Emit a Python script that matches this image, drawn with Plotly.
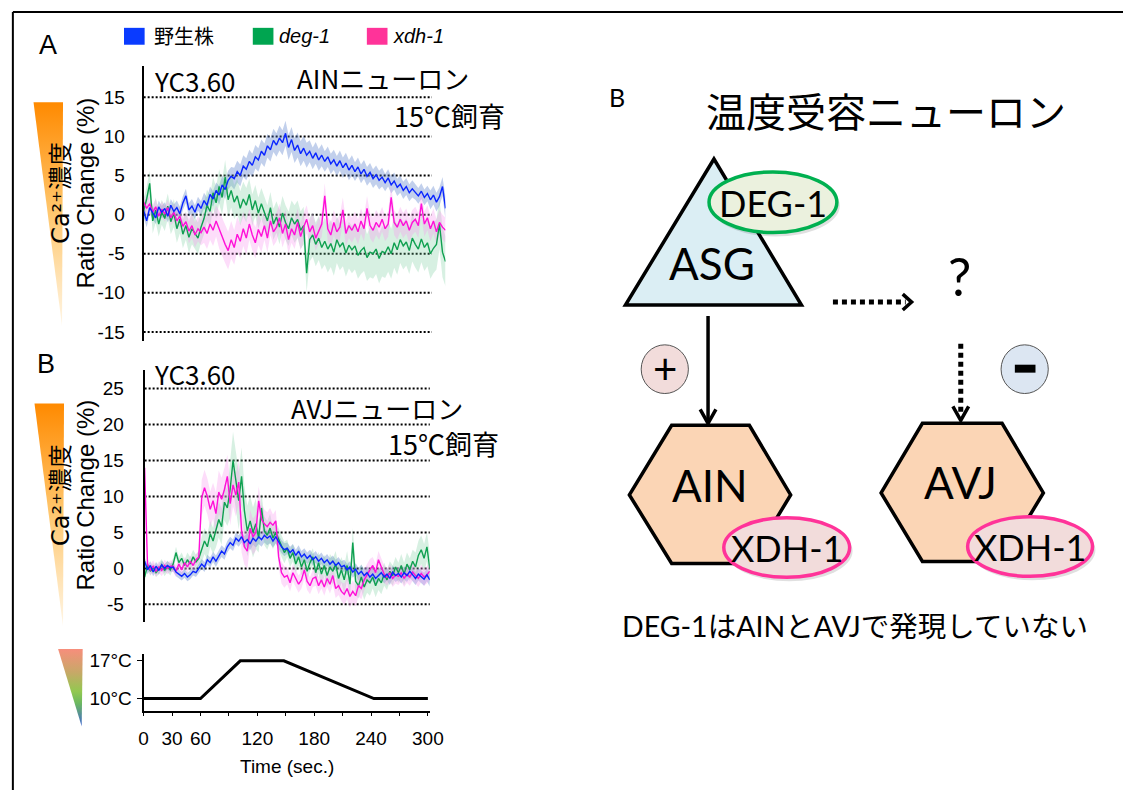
import plotly.graph_objects as go

W, H = 1137, 792

# ---------------- data ----------------
TIME = list(range(0, 301, 3))          # seconds, 3-s sampling
SEM_BLOCK = 5                           # SEM given per block of 5 samples (15 s)

# Panel A : AIN neuron
WT_A = [0.5, -0.8, 0.9, 0.2, -0.4, 1.0, 0.3, 0.8, -0.2, 1.2, 0.4, 0.9, 0.1, 1.5, 2.4, 0.6, 1.1, 0.3, 1.4, 0.8,
        1.8, 1.2, 2.6, 2.0, 3.1, 2.5, 3.8, 3.2, 4.4, 4.9,
        4.6, 5.5, 5.0, 6.2, 5.8, 6.8, 6.3, 7.4, 7.0, 8.1,
        7.6, 8.8, 8.3, 9.5, 8.9, 9.8, 9.2, 10.4, 8.6, 9.6,
        8.2, 8.9, 7.8, 8.5, 7.6, 8.1, 7.2, 7.9, 7.0, 7.6,
        6.8, 7.4, 6.5, 7.0, 6.2, 6.9, 6.0, 6.6, 5.7, 6.3,
        5.5, 6.1, 5.2, 5.8, 4.9, 5.4, 4.6, 5.1, 4.4, 4.8,
        4.1, 4.7, 3.8, 4.3, 3.5, 3.9, 3.1, 3.6, 2.8, 3.3,
        2.9, 2.4, 3.0, 2.2, 2.7, 1.9, 2.5, 1.6, 2.3, 3.6, 0.8]
DEG_A = [0.5, 2.0, 4.0, -0.8, 0.6, -1.2, 0.3, -0.5, 1.1, -0.9, 0.2, -1.8, -0.6, -2.5, -1.4, -2.9, -1.8, -2.4, -3.0, -1.6,
         -0.5, 1.2, 0.4, 2.8, 1.5, 3.6, 2.2, 4.8, 1.9, 3.1,
         1.6, 2.4, 0.8, 2.0, 1.2, 2.6, 0.6, 1.8, 0.2, 1.4,
         0.4, -0.8, 0.9, -1.2, -0.3, -1.6, 0.2, -1.0, -1.8, -0.4,
         -1.2, -0.6, -2.0, -1.4, -7.5, -3.2, -2.6, -3.8, -3.0, -4.2,
         -3.4, -4.4, -3.7, -4.8, -3.2, -4.1, -3.6, -4.9, -3.9, -4.5,
         -4.0, -5.2, -4.6, -4.2, -5.5, -4.8, -5.0, -4.4, -5.6, -4.7,
         -4.9, -4.1, -5.0, -3.6, -4.5, -3.2, -4.0, -3.5, -4.6, -3.0,
         -3.8, -4.4, -3.1, -4.2, -3.6, -5.0, -4.3, -3.8, -1.2, -4.8, -6.0]
XDH_A = [1.6, 0.8, 1.4, 0.3, 1.0, -0.2, 0.7, 0.1, 0.9, -0.4, 0.3, -0.8, -0.2, -1.5, -0.9, -2.1, -1.4, -2.6, -1.8, -2.3,
         -1.6, -2.4, -1.2, -2.0, -0.8, -1.9, -2.8, -3.8, -4.6, -3.2,
         -4.2, -2.5, -3.4, -1.8, -3.0, -1.2, -2.6, -3.6, -1.9, -2.8,
         -1.4, -3.0, -0.8, -2.2, -1.6, -0.4, -2.4, -1.2, -3.2, -1.8,
         -2.6, -1.0, -2.8, -1.6, -0.6, -2.2, -1.4, -3.0, -2.0, -1.2,
         2.4, -1.8, -2.6, -1.0, -2.2, -1.6, 0.6, -2.4, -1.4, -2.0,
         -1.2, -2.2, -0.8, -1.8, 0.8, -1.4, -2.0, -1.0, -1.6, -0.6,
         -1.8, -1.2, 2.2, -1.0, -1.6, -0.6, -1.4, -0.8, -2.0, -1.0,
         -0.6, -1.4, 1.4, -1.2, -0.4, -1.8, -0.8, -2.2, -1.0, -1.6, -2.0]
WT_A_SEM = [0.8, 0.8, 0.9, 0.9, 1.0, 1.2, 1.4, 1.5, 1.5, 1.6, 1.6, 1.4, 1.3, 1.3, 1.2, 1.2, 1.1, 1.1, 1.0, 1.2, 1.5]
DEG_A_SEM = [1.6, 1.6, 1.8, 2.0, 2.0, 2.2, 2.2, 2.0, 2.0, 2.2, 2.4, 2.8, 3.0, 3.0, 3.0, 3.2, 3.2, 3.0, 3.0, 3.2, 3.2]
XDH_A_SEM = [1.0, 1.0, 1.2, 1.6, 2.0, 2.4, 2.2, 2.0, 1.8, 1.8, 1.8, 1.6, 1.6, 1.6, 1.6, 1.6, 1.6, 1.6, 1.6, 1.6, 1.6]

# Panel B : AVJ neuron
WT_B = [1.0, -0.2, 0.4, -0.5, 0.3, -0.3, 0.5, 0.0, 0.4, 0.1,
        0.2, -0.5, -0.8, -1.1, -0.7, -1.2, -0.9, -0.4, -0.6, 0.0,
        0.6, 0.2, 1.2, 0.8, 1.6, 1.0, 1.8, 2.4, 2.0, 3.0,
        3.6, 3.2, 4.2, 3.8, 4.4, 3.6, 4.0, 3.4, 4.2, 3.8,
        4.4, 4.0, 4.6, 4.2, 4.5, 3.8, 4.4, 3.6, 3.0, 2.6,
        2.8, 2.2, 2.6, 1.8, 2.4, 1.6, 2.0, 1.4, 1.8, 1.2,
        1.6, 1.0, 1.4, 0.8, 1.2, 0.6, 1.0, 0.4, 0.8, 0.2,
        0.4, -0.2, 0.2, -0.5, -0.1, -0.8, -0.4, -1.0, -0.6, -1.2,
        -0.8, -1.4, -1.0, -0.6, -1.2, -0.8, -1.4, -0.5, -1.0, -0.7,
        -1.2, -0.6, -1.0, -0.4, -0.9, -1.4, -0.8, -1.2, -1.5, -0.9, -1.6]
DEG_B = [-1.2, 0.4, -0.4, 0.2, -0.6, 0.0, 0.5, -0.3, 0.3, -0.2,
         0.6, 2.2, 0.8, 1.4, 0.4, 1.2, 0.6, 1.6, 0.9, 1.4,
         2.6, 3.8, 3.0, 4.8, 3.8, 5.4, 6.8, 5.8, 9.2, 8.4,
         11.0, 15.0, 12.2, 9.4, 12.8, 8.0, 5.2, 6.6, 5.0, 6.2,
         4.2, 8.4, 5.2, 4.6, 5.6, 4.2, 5.0, 4.0, 3.0, 2.2,
         2.8, 1.4, 2.2, 0.6, 1.6, 0.2, 1.2, -0.4, 0.8, 1.6,
         -0.6, 0.8, -0.8, 0.4, -1.0, 0.2, -0.4, 0.6, -1.4, -0.2,
         -1.6, 0.4, -2.2, 3.6, -1.8, -2.4, -1.2, -2.6, -1.6, -2.0,
         -1.2, -2.4, -1.4, -2.0, -0.8, -1.6, -0.4, -1.0, 0.2, -0.6,
         0.4, -0.8, 0.6, -0.2, 1.0, 0.2, 1.8, 2.6, 1.4, 3.0, 0.0]
XDH_B = [14.0, 0.6, -0.2, 0.3, -0.4, 0.2, -0.3, 0.4, 0.0, 0.3,
         0.3, -0.4, 0.6, -0.2, 0.8, 0.2, 1.0, 0.4, 1.2, 1.6,
         9.8, 11.2, 10.0, 8.2, 9.4, 7.6, 10.6, 9.6, 11.0, 12.8,
         9.0, 11.6, 10.2, 12.0, 5.2, 3.0, 2.4, 5.6, 4.4, 5.0,
         9.4, 6.8, 6.2, 5.8, 6.4, 6.0, 6.6, 1.6, -0.6, -1.2,
         -1.0, -2.0, -0.6, -1.4, -2.2, -1.6, -0.2, -1.8, -2.4, -1.4,
         -1.2, -2.4, -1.6, -2.6, -1.4, -2.2, -1.0, -2.8, -2.4, -3.2,
         -3.6, -2.8, -3.9, -3.2, -3.8, -2.4, -2.8, -1.6, -0.8, -0.2,
         0.4, -0.6, 1.2, 0.2, -0.8, -1.2, -0.6, -1.4, -0.9, -1.1,
         -0.6, -1.4, -0.8, -1.2, -0.5, -1.0, -1.4, -0.7, -1.2, -0.9, -0.4]
WT_B_SEM = [0.6, 0.6, 0.6, 0.6, 0.7, 0.8, 0.8, 0.9, 1.0, 0.9, 0.8, 0.8, 0.8, 0.8, 0.8, 0.9, 0.9, 0.9, 0.9, 0.9, 0.9]
DEG_B_SEM = [0.6, 0.8, 0.8, 1.0, 1.8, 2.5, 4.0, 3.5, 2.0, 1.5, 1.2, 1.2, 1.5, 1.8, 2.0, 1.8, 1.6, 1.4, 1.6, 2.0, 2.2]
XDH_B_SEM = [0.8, 0.8, 0.8, 0.8, 2.5, 3.0, 3.0, 2.5, 2.0, 1.5, 1.2, 1.2, 1.2, 1.3, 1.5, 1.5, 1.2, 1.2, 1.2, 1.2, 1.2]

# Temperature protocol
TEMP_T = [0, 60, 102, 148, 243, 300]
TEMP_C = [10, 10, 17, 17, 10, 10]

TICKS_A = [15, 10, 5, 0, -5, -10, -15]
TICKS_B = [25, 20, 15, 10, 5, 0, -5]
TIME_TICKS = [0, 30, 60, 120, 180, 240, 300]
TIME_MINOR_STEP = 30
TEMP_TICKS = [10, 17]
TEMP_LABELS = ["10°C", "17°C"]

SERIES = ["野生株", "deg-1", "xdh-1"]
LINE_COL = ["#0A25FF", "#0FA050", "#FF10D8"]
BAND_COL = ["rgba(80,120,200,0.35)", "rgba(110,200,150,0.28)", "rgba(250,150,240,0.32)"]
LEG_COL = ["#0A3BFF", "#00A550", "#FF3399"]

for arr in (WT_A, DEG_A, XDH_A, WT_B, DEG_B, XDH_B):
    assert len(arr) == len(TIME), len(arr)

fig = go.Figure()


def add_panel(means, sems, xa, ya):
    for m, s, bc in zip(means, sems, BAND_COL):
        sem = [s[i // SEM_BLOCK] for i in range(len(TIME))]
        up = [a + b for a, b in zip(m, sem)]
        lo = [a - b for a, b in zip(m, sem)]
        fig.add_trace(go.Scatter(x=TIME + TIME[::-1], y=up + lo[::-1], fill="toself",
                                 fillcolor=bc, line=dict(width=0), mode="lines",
                                 hoverinfo="skip", xaxis=xa, yaxis=ya))
    for idx in (1, 2, 0):
        fig.add_trace(go.Scatter(x=TIME, y=means[idx], mode="lines", name=SERIES[idx],
                                 line=dict(color=LINE_COL[idx], width=1.4),
                                 xaxis=xa, yaxis=ya))


add_panel([WT_A, DEG_A, XDH_A], [WT_A_SEM, DEG_A_SEM, XDH_A_SEM], "x", "y")
add_panel([WT_B, DEG_B, XDH_B], [WT_B_SEM, DEG_B_SEM, XDH_B_SEM], "x2", "y2")

fig.add_trace(go.Scatter(x=TEMP_T, y=TEMP_C, mode="lines", line=dict(color="black", width=3),
                         xaxis="x3", yaxis="y3"))


def grad_tri(xs, ys, scale):
    fig.add_trace(go.Scatter(x=xs, y=ys, fill="toself", mode="lines", line=dict(width=0),
                             fillgradient=dict(type="vertical", colorscale=scale),
                             hoverinfo="skip", xaxis="x4", yaxis="y4"))


CA_SCALE = [[0, "#FFF6E6"], [0.5, "#FFC870"], [1, "#FF8A00"]]
T_SCALE = [[0, "#3F66D0"], [0.3, "#6CB860"], [0.45, "#92C850"], [0.7, "#C8A868"], [1, "#F78E7C"]]
grad_tri([29, 59, 58, 29], [100, 100, 325, 100], CA_SCALE)
grad_tri([30, 60, 59, 30], [403, 403, 627, 403], CA_SCALE)
grad_tri([54, 79, 78, 54], [650, 650, 728, 650], T_SCALE)

TF = dict(family="Liberation Sans, Arial", size=19, color="black")
JP = "Noto Sans CJK JP"
DG = "Lato, Noto Sans CJK JP"
HIDDEN = dict(showticklabels=False, showline=False, showgrid=False, zeroline=False,
              ticks="", fixedrange=True)

layout = dict(
    width=W, height=H, margin=dict(l=0, r=0, t=0, b=0),
    paper_bgcolor="white", plot_bgcolor="rgba(0,0,0,0)", showlegend=False,
    xaxis=dict(domain=[141 / W, 448 / W], range=[0, 300], **HIDDEN),
    yaxis=dict(domain=[1 - 340 / H, 1 - 63 / H], range=[-16.14, 19.06], anchor="x",
               tickvals=TICKS_A, ticktext=[str(v) for v in TICKS_A], ticks="",
               ticklabelstandoff=13, tickfont=TF, showline=True, linecolor="black",
               linewidth=2, showgrid=False, zeroline=False, fixedrange=True),
    xaxis2=dict(domain=[142 / W, 432 / W], range=[0, 300], anchor="y2", **HIDDEN),
    yaxis2=dict(domain=[1 - 623 / H, 1 - 369 / H], range=[-7.46, 27.62], anchor="x2",
                tickvals=TICKS_B, ticktext=[str(v) for v in TICKS_B], ticks="",
                ticklabelstandoff=15, tickfont=TF, showline=True, linecolor="black",
                linewidth=2, showgrid=False, zeroline=False, fixedrange=True),
    xaxis3=dict(domain=[141 / W, 432 / W], range=[0, 302], anchor="y3",
                tickvals=TIME_TICKS, ticktext=[str(v) for v in TIME_TICKS], ticks="outside", ticklen=3,
                tickcolor="black", ticklabelstandoff=6,
                minor=dict(tick0=0, dtick=TIME_MINOR_STEP, ticks="outside", ticklen=3, tickcolor="black"),
                tickfont=dict(family="Liberation Sans, Arial", size=19, color="black"),
                showline=True, linecolor="black", linewidth=2, showgrid=False,
                zeroline=False, fixedrange=True),
    yaxis3=dict(domain=[1 - 713 / H, 1 - 655 / H], range=[7.61, 18.29], anchor="x3",
                tickvals=TEMP_TICKS, ticktext=TEMP_LABELS, ticks="outside", ticklen=5,
                tickcolor="black", ticklabelstandoff=1,
                tickfont=dict(family="Liberation Sans, Arial", size=19, color="black"),
                showline=True, linecolor="black", linewidth=2, showgrid=False,
                zeroline=False, fixedrange=True),
    xaxis4=dict(domain=[0, 1], range=[0, W], anchor="y4", **HIDDEN),
    yaxis4=dict(domain=[0, 1], range=[H, 0], anchor="x4", **HIDDEN),
)
fig.update_layout(**layout)

shapes = []
for v in TICKS_A:
    shapes.append(dict(type="line", xref="x domain", yref="y", x0=0, x1=0.955, y0=v, y1=v,
                       line=dict(color="black", width=2, dash="2px,2px"), layer="below"))
for v in TICKS_B:
    shapes.append(dict(type="line", xref="x2 domain", yref="y2", x0=0, x1=1, y0=v, y1=v,
                       line=dict(color="black", width=2, dash="2px,2px"), layer="below"))

P = dict(xref="x4", yref="y4")
shapes.append(dict(type="line", x0=8, x1=W + 5, y0=9, y1=9, line=dict(color="black", width=2), **P))
shapes.append(dict(type="line", x0=8, x1=8, y0=9, y1=H + 5, line=dict(color="black", width=2), **P))
for x0, c in zip([121, 252, 368], LEG_COL):
    shapes.append(dict(type="rect", x0=x0, x1=x0 + 21, y0=25, y1=42, fillcolor=c, line=dict(width=0), **P))

# ---- diagram ----
shapes.append(dict(type="path", path="M 721 157 L 631 304 L 810 304 Z", fillcolor="#DBEEF4",
                   line=dict(color="black", width=3.5), **P))


def ellipse(x0, x1, y0, y1, fill, stroke):
    shapes.append(dict(type="circle", x0=x0 + 2, x1=x1 + 3, y0=y0 + 3, y1=y1 + 4,
                       fillcolor="rgba(0,0,0,0.12)", line=dict(width=0), **P))
    shapes.append(dict(type="circle", x0=x0, x1=x1, y0=y0, y1=y1, fillcolor=fill,
                       line=dict(color=stroke, width=3.5), **P))


ellipse(716, 846, 170, 231, "#EBF1DE", "#00B050")
shapes.append(dict(type="path", path="M 635 495 L 678 425 L 757 425 L 799 495 L 757 564 L 678 564 Z",
                   fillcolor="#FBD5B5", line=dict(color="black", width=3.5), **P))
shapes.append(dict(type="path", path="M 891 493 L 933 423 L 1014 423 L 1056 493 L 1014 562 L 933 562 Z",
                   fillcolor="#FBD5B5", line=dict(color="black", width=3.5), **P))
ellipse(731, 859, 518, 578, "#F2DCDB", "#FF3399")
ellipse(979, 1106, 517, 577, "#F2DCDB", "#FF3399")
shapes.append(dict(type="line", x0=842, x1=916, y0=301, y1=301,
                   line=dict(color="black", width=5, dash="5px,4px"), **P))
shapes.append(dict(type="path", path="M 913 293 L 922 301 L 913 309",
                   line=dict(color="black", width=3.5), **P))
shapes.append(dict(type="line", x0=715, x1=715, y0=315, y1=420, line=dict(color="black", width=3.5), **P))
shapes.append(dict(type="path", path="M 707 409 L 715 423 L 723 409",
                   line=dict(color="black", width=3.5), **P))
shapes.append(dict(type="line", x0=972, x1=972, y0=343, y1=414,
                   line=dict(color="black", width=5, dash="5px,4px"), **P))
shapes.append(dict(type="path", path="M 964 406 L 972 420 L 980 406",
                   line=dict(color="black", width=3.5), **P))
shapes.append(dict(type="circle", x0=647, x1=695, y0=344, y1=393, fillcolor="#F2DCDB",
                   line=dict(color="#555555", width=1), **P))
shapes.append(dict(type="circle", x0=1013, x1=1061, y0=344, y1=393, fillcolor="#DCE6F2",
                   line=dict(color="#555555", width=1), **P))
shapes.append(dict(type="rect", x0=1027, x1=1048, y0=364, y1=372, fillcolor="black",
                   line=dict(width=0), **P))
fig.update_layout(shapes=shapes)

ann = []


def T(x, y, text, size, family=JP, xanchor="center", angle=0, italic=False):
    ann.append(dict(x=x, y=y, text=text, showarrow=False, xanchor=xanchor, yanchor="middle",
                    textangle=angle, font=dict(family=family, size=size, color="black",
                                               style="italic" if italic else "normal"), **P))


T(44, 42, "A", 27, "Liberation Sans, Arial")
T(42, 363, "B", 27, "Liberation Sans, Arial")
T(150, 33, "野生株", 20, JP, "left")
T(277, 33, "deg-1", 20, "Liberation Sans, Arial", "left", italic=True)
T(393, 33, "xdh-1", 20, "Liberation Sans, Arial", "left", italic=True)
T(150, 78, "YC3.60", 26, JP, "left")
T(295, 75, "AINニューロン", 26, JP, "left")
T(511, 113, "15℃飼育", 27, JP, "right")
T(150, 373, "YC3.60", 26, JP, "left")
T(289, 407, "AVJニューロン", 26, JP, "left")
T(504, 443, "15℃飼育", 27, JP, "right")
for yc in (191, 495):
    T(82, yc, "Ratio Change (%)", 24, "Liberation Sans, Arial", angle=-90)
    T(57, yc, "Ca²⁺濃度", 24, "DejaVu Sans, Noto Sans CJK JP", angle=-90)
T(287, 768, "Time (sec.)", 19, "Liberation Sans, Arial")

T(622, 95, "B", 25, DG)
T(896, 108, "温度受容ニューロン", 40, JP)
T(719, 262, "ASG", 44, DG)
T(781, 201, "DEG-1", 36, DG)
T(971, 275, "?", 52, DG)
T(671, 367, "+", 42, DG)
T(717, 485, "AIN", 44, DG)
T(795, 548, "XDH-1", 36, DG)
T(972, 482, "AVJ", 44, DG)
T(1042, 547, "XDH-1", 36, DG)
T(864, 627, "DEG-1はAINとAVJで発現していない", 28.5, DG)
fig.update_layout(annotations=ann)

fig.write_html("out.html", config={"displayModeBar": False},
               post_script="document.body.style.margin='0px';")
